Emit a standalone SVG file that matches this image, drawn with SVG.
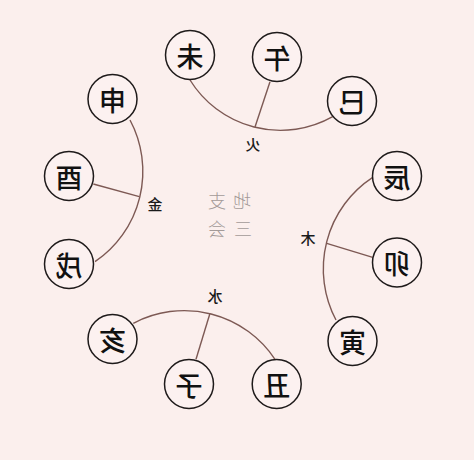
<svg xmlns="http://www.w3.org/2000/svg" width="474" height="460" viewBox="0 0 474 460">
<style>
.bg{fill:#fbefed}
.node circle{fill:#fcf1f0;stroke:#1e1a1a;stroke-width:1.5}
.node text{font-family:"Noto Sans CJK SC","Noto Sans CJK JP",sans-serif;font-size:27px;font-weight:500;fill:#111;text-anchor:middle;dominant-baseline:central}
.conn path{fill:none;stroke:#7d5954;stroke-width:1.4}
.lbl{font-family:"Noto Sans CJK SC",sans-serif;font-size:15px;font-weight:500;fill:#1a1a1a;text-anchor:middle;dominant-baseline:central}
.title{font-family:"Noto Sans CJK SC",sans-serif;font-size:18px;fill:#a39a98;text-anchor:middle;dominant-baseline:central;font-weight:300}
</style>
<rect class="bg" x="0" y="0" width="474" height="460"/>
<g id="connectors" class="conn">
<path d="M190,80 A106.4,106.4 0 0,0 332.7,116.7"/>
<path d="M270,81.7 L255,127"/>
<path d="M130,120 A109.2,109.2 0 0,1 95,261.7"/>
<path d="M93.3,184 L139.3,196.7"/>
<path d="M372.7,177.3 A109.5,109.5 0 0,0 336,320"/>
<path d="M372.7,257.3 L326.7,243.3"/>
<path d="M133.3,323.3 A108.8,108.8 0 0,1 275,359.3"/>
<path d="M196,359.3 L210,313.3"/>
</g>
<g id="n-wei" class="node"><circle cx="190" cy="55" r="24.5"/><text transform="translate(190,55) scale(-1,1)">未</text></g>
<g id="n-wu" class="node"><circle cx="277" cy="57" r="24.5"/><text transform="translate(277,57) scale(-1,1)">午</text></g>
<g id="n-si" class="node"><circle cx="352" cy="101" r="24.5"/><text transform="translate(352,101) scale(-1,1)">巳</text></g>
<g id="n-shen" class="node"><circle cx="112.5" cy="99" r="24.5"/><text transform="translate(112.5,99) scale(-1,1)">申</text></g>
<g id="n-you" class="node"><circle cx="69" cy="176" r="24.5"/><text transform="translate(69,176) scale(-1,1)">酉</text></g>
<g id="n-xu" class="node"><circle cx="69" cy="264" r="24.5"/><text transform="translate(69,264) scale(-1,1)">戌</text></g>
<g id="n-chen" class="node"><circle cx="397" cy="176" r="24.5"/><text transform="translate(397,176) scale(-1,1)">辰</text></g>
<g id="n-mao" class="node"><circle cx="397" cy="262.5" r="24.5"/><text transform="translate(397,262.5) scale(-1,1)">卯</text></g>
<g id="n-yin" class="node"><circle cx="352.5" cy="341" r="24.5"/><text transform="translate(352.5,341) scale(-1,1)">寅</text></g>
<g id="n-hai" class="node"><circle cx="112.5" cy="339" r="24.5"/><text transform="translate(112.5,339) scale(-1,1)">亥</text></g>
<g id="n-zi" class="node"><circle cx="189" cy="384" r="24.5"/><text transform="translate(189,384) scale(-1,1)">子</text></g>
<g id="n-chou" class="node"><circle cx="276.7" cy="384" r="24.5"/><text transform="translate(276.7,384) scale(-1,1)">丑</text></g>
<g id="labels">
<text class="lbl" transform="translate(253,143) scale(-1,1)">火</text>
<text class="lbl" transform="translate(155,203) scale(-1,1)">金</text>
<text class="lbl" transform="translate(308,237) scale(-1,1)">木</text>
<text class="lbl" transform="translate(215,295) scale(-1,1)">水</text>
<text class="title" transform="translate(242,200) scale(-1,1)">地</text>
<text class="title" transform="translate(217,200) scale(-1,1)">支</text>
<text class="title" transform="translate(243,228) scale(-1,1)">三</text>
<text class="title" transform="translate(217,228) scale(-1,1)">会</text>
</g>
</svg>
